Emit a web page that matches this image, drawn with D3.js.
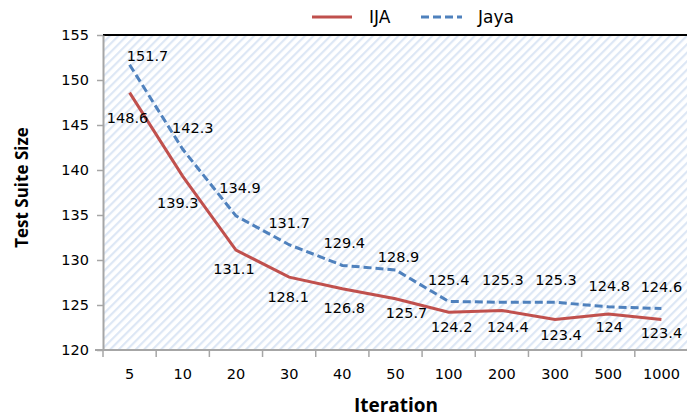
<!DOCTYPE html>
<html>
<head>
<meta charset="utf-8">
<script src="https://cdn.jsdelivr.net/npm/d3@7.9.0/dist/d3.min.js"></script>
<style>
  body { margin: 0; background: #fff; }
  svg { display: block; }
</style>
</head>
<body>
<div id="chart"></div>
<script>
const iterations = ["5", "10", "20", "30", "40", "50", "100", "200", "300", "500", "1000"];
const ija = [148.6, 139.3, 131.1, 128.1, 126.8, 125.7, 124.2, 124.4, 123.4, 124, 123.4];
const jaya = [151.7, 142.3, 134.9, 131.7, 129.4, 128.9, 125.4, 125.3, 125.3, 124.8, 124.6];
const yTicks = [120, 125, 130, 135, 140, 145, 150, 155];

// label nudges (px) so the labels sit like the original
const ijaNudge = [[-2, 25], [-5, 27], [-2, 19], [-1, 20], [2, 19], [11, 14], [3, 15], [6, 17], [6, 16], [1, 13], [0, 14]];
const jayaNudge = [[18, -9], [10, -21], [4, -28], [0, -22], [2, -22], [3, -13], [0, -21], [1, -22], [1, -22], [1, -21], [0, -22]];

const width = 687, height = 419;
const margin = { top: 35, right: -1, bottom: 69, left: 103 };

const svg = d3.select('#chart').append('svg')
    .attr('width', width)
    .attr('height', height);

const x = d3.scaleBand()
    .domain(iterations)
    .range([margin.left, width - margin.right]);

const y = d3.scaleLinear()
    .domain([120, 155])
    .range([height - margin.bottom, margin.top]);

// hatched plot background
const defs = svg.append('defs');
const pat = defs.append('pattern')
    .attr('id', 'hatch')
    .attr('patternUnits', 'userSpaceOnUse')
    .attr('width', 6).attr('height', 6)
    .attr('patternTransform', 'rotate(45)');
pat.append('rect').attr('width', 6).attr('height', 6).attr('fill', '#ffffff');
pat.append('rect').attr('width', 2.2).attr('height', 6).attr('fill', '#dde7f5');

svg.append('rect')
    .attr('x', margin.left)
    .attr('y', margin.top)
    .attr('width', width - margin.right - margin.left)
    .attr('height', y(120) - margin.top)
    .attr('fill', 'url(#hatch)');

// top border
svg.append('line')
    .attr('x1', margin.left).attr('x2', width)
    .attr('y1', margin.top).attr('y2', margin.top)
    .attr('stroke', '#000').attr('stroke-width', 2);

const tickFont = "'DejaVu Sans', sans-serif";

// y axis
const yAxis = svg.append('g')
    .attr('transform', `translate(${margin.left},0)`)
    .call(d3.axisLeft(y).tickValues(yTicks).tickSize(6).tickSizeOuter(0).tickPadding(8));
yAxis.select('.domain').attr('stroke', '#a6a6a6').attr('stroke-width', 2);
yAxis.selectAll('.tick line').attr('stroke', '#a6a6a6').attr('stroke-width', 1.5);
yAxis.selectAll('text').attr('font-family', tickFont).attr('font-size', '14.5px').attr('fill', '#000');

// x axis with ticks between categories
const xAxisG = svg.append('g')
    .attr('transform', `translate(0,${y(120)})`);
xAxisG.append('line')
    .attr('x1', margin.left - 8).attr('x2', width)
    .attr('stroke', '#a6a6a6').attr('stroke-width', 2);
xAxisG.selectAll('line.tk')
    .data(iterations)
    .join('line')
    .attr('class', 'tk')
    .attr('x1', d => x(d)).attr('x2', d => x(d))
    .attr('y1', 0).attr('y2', 7)
    .attr('stroke', '#a6a6a6').attr('stroke-width', 1.5);
xAxisG.selectAll('text')
    .data(iterations)
    .join('text')
    .attr('x', d => x(d) + x.bandwidth() / 2)
    .attr('y', 29)
    .attr('text-anchor', 'middle')
    .attr('font-family', tickFont)
    .attr('font-size', '14.5px')
    .text(d => d);

// lines
const cx = (d, i) => x(iterations[i]) + x.bandwidth() / 2;
const line = d3.line().x(cx).y(d => y(d));

svg.append('path')
    .datum(jaya)
    .attr('d', line)
    .attr('fill', 'none')
    .attr('stroke', '#4f81bd')
    .attr('stroke-width', 3)
    .attr('stroke-dasharray', '8,4');

svg.append('path')
    .datum(ija)
    .attr('d', line)
    .attr('fill', 'none')
    .attr('stroke', '#c0504d')
    .attr('stroke-width', 3);

// data labels
function labels(values, nudge) {
    svg.append('g')
        .selectAll('text')
        .data(values)
        .join('text')
        .attr('x', (d, i) => cx(d, i) + nudge[i][0])
        .attr('y', (d, i) => y(d) + nudge[i][1])
        .attr('dy', '0.35em')
        .attr('text-anchor', 'middle')
        .attr('font-family', tickFont)
        .attr('font-size', '14.5px')
        .text(d => d);
}
labels(jaya, jayaNudge);
labels(ija, ijaNudge);

// axis titles
svg.append('text')
    .attr('transform', `translate(28,${(margin.top + y(120)) / 2 - 5}) rotate(-90)`)
    .attr('text-anchor', 'middle')
    .attr('font-family', "'Open Sans', sans-serif")
    .attr('font-weight', 'bold')
    .attr('font-size', '17px')
    .text('Test Suite Size');

svg.append('text')
    .attr('x', 396)
    .attr('y', 412)
    .attr('text-anchor', 'middle')
    .attr('font-family', "'Open Sans', sans-serif")
    .attr('font-weight', 'bold')
    .attr('font-size', '19px')
    .text('Iteration');

// legend
const legend = svg.append('g').attr('transform', 'translate(312,17)');
legend.append('line').attr('x1', 0).attr('x2', 40)
    .attr('stroke', '#c0504d').attr('stroke-width', 3);
legend.append('text').attr('x', 57).attr('dy', '0.35em')
    .attr('font-family', tickFont).attr('font-size', '17px').text('IJA');
legend.append('line').attr('x1', 109).attr('x2', 150)
    .attr('stroke', '#4f81bd').attr('stroke-width', 3).attr('stroke-dasharray', '8,4');
legend.append('text').attr('x', 166).attr('dy', '0.35em')
    .attr('font-family', tickFont).attr('font-size', '17px').text('Jaya');
</script>
</body>
</html>
